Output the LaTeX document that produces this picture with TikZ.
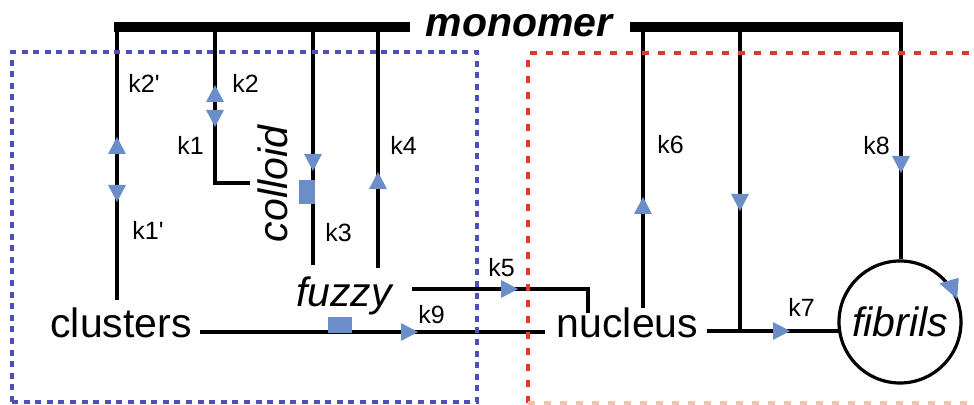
\documentclass[tikz,border=0pt]{standalone}
\usepackage{fontspec}
\setmainfont{Liberation Sans}
\usetikzlibrary{decorations.markings}

\definecolor{tipblue}{RGB}{107,141,200}
\definecolor{boxblue}{RGB}{76,80,184}
\definecolor{boxred}{RGB}{232,55,40}
\definecolor{boxpink}{RGB}{248,192,170}

\tikzset{
  conn/.style={draw=black, line width=1.6pt},
  monobar/.style={draw=black, line width=4.75pt},
  fwdtip/.style={postaction={decorate, decoration={markings,
      mark=at position #1 with {\fill[tipblue] (0pt,0pt) -- (-8.5pt,4.5pt) -- (-8.5pt,-4.5pt) -- cycle;}}}},
  backtip/.style={postaction={decorate, decoration={markings,
      mark=at position #1 with {\fill[tipblue] (0pt,0pt) -- (8.5pt,4.5pt) -- (8.5pt,-4.5pt) -- cycle;}}}},
  species/.style={font=\fontsize{20.5pt}{24pt}\selectfont, inner sep=0pt},
  rate/.style={font=\fontsize{12.5pt}{15pt}\selectfont, inner sep=0pt, anchor=base west},
  inhib/.style={fill=tipblue, draw=none, inner sep=0pt},
  bluebox/.style={draw=boxblue, line width=1.6pt, dash pattern=on 3pt off 2.8pt},
  redbox/.style={draw=boxred, line width=1.6pt, dash pattern=on 3.5pt off 4.5pt},
  palebox/.style={draw=boxpink, line width=1.6pt, dash pattern=on 3.5pt off 4.5pt},
}

\begin{document}
\begin{tikzpicture}[x=0.5pt, y=-0.5pt]
\useasboundingbox (0,0) rectangle (974,405);

% species
\node[species, anchor=base] (mono) at (519,37) {\bfseries\itshape monomer};
\node[species, anchor=base west] (cl) at (50,338) {clusters};
\node[species, anchor=base] (fz) at (344,307) {\itshape fuzzy};
\node[species, anchor=base] (nu) at (627.5,338) {nucleus};
\node[species, rotate=90, anchor=base] (col) at (287,184) {\itshape colloid};
\node[species, draw, circle, line width=1.6pt, minimum size=61pt] (fib) at (900,322) {\itshape fibrils};

% monomer pool bars
\coordinate (bLa) at (114,27);  \coordinate (bLb) at (410,27);
\coordinate (bRa) at (630,27);  \coordinate (bRb) at (903,27);
\draw[monobar] (bLa) -- (bLb);
\draw[monobar] (bRa) -- (bRb);

% branch points on the bars
\coordinate (j1) at (117,27);
\coordinate (j2) at (215,27);
\coordinate (j3) at (313,27);
\coordinate (j4) at (378,27);
\coordinate (j6) at (643,27);
\coordinate (j7) at (740,27);
\coordinate (j8) at (901,27);

% free ends of the reaction lines
\coordinate (e1) at (117,300);
\coordinate (e2) at (250,183);
\coordinate (e3) at (313,265);
\coordinate (e4) at (378,268);
\coordinate (e6) at (643,308);
\coordinate (k5a) at (412,289);
\coordinate (k5b) at (588,313);
\coordinate (k9a) at (200,332);
\coordinate (k9b) at (545,332);
\coordinate (k7a) at (707,331);
\coordinate (k7b) at (839.5,331);
\coordinate (k7j) at (740,331);

% reactions with the monomer
\draw[conn, backtip=55pt, fwdtip=87.5pt] (j1) -- (e1);
\draw[conn, backtip=29pt, fwdtip=50pt] (j2) |- (e2);
\draw[conn, fwdtip=72pt] (j3) -- (e3);
\draw[conn, backtip=72.5pt] (j4) -- (e4);
\draw[conn, backtip=85pt] (j6) -- (e6);
\draw[conn, fwdtip=92pt] (j7) -- (k7j);
\draw[conn, fwdtip=73pt] (j8) -- (j8 |- fib.north);

% conversions between species
\draw[conn, fwdtip=53pt] (k5a) -| (k5b);
\draw[conn, fwdtip=109pt] (k9a) -- (k9b);
\draw[conn, fwdtip=41.5pt] (k7a) -- (k7b);

% inhibition marks
\node[inhib, minimum width=8pt, minimum height=12pt] (sqc) at (307,192) {};
\node[inhib, minimum width=12pt, minimum height=8pt] (sq9) at (340,325) {};

% growth tip on the fibril circle
\begin{scope}[shift={(fib.center)}, rotate=22]
  \fill[tipblue] (30.8pt,0pt) -- (25.5pt,10.5pt) -- (35.5pt,9.5pt) -- cycle;
\end{scope}

% rate constants
\node[rate] (lk2p) at (128,93) {k2\textquotesingle};
\node[rate] (lk2) at (232,93) {k2};
\node[rate] (lk1) at (177,155) {k1};
\node[rate] (lk4) at (390,155) {k4};
\node[rate] (lk1p) at (132,240) {k1\textquotesingle};
\node[rate] (lk3) at (325,242) {k3};
\node[rate] (lk5) at (488,277) {k5};
\node[rate] (lk9) at (418,324) {k9};
\node[rate] (lk6) at (657,154) {k6};
\node[rate] (lk8) at (863,155) {k8};
\node[rate] (lk7) at (788,317) {k7};

% compartments
\draw[bluebox] (12,402) rectangle (477,52);
\draw[redbox] (528,403) -- (528,53) -- (974,53);
\draw[palebox] (528,403) -- (974,403);
\end{tikzpicture}
\end{document}
